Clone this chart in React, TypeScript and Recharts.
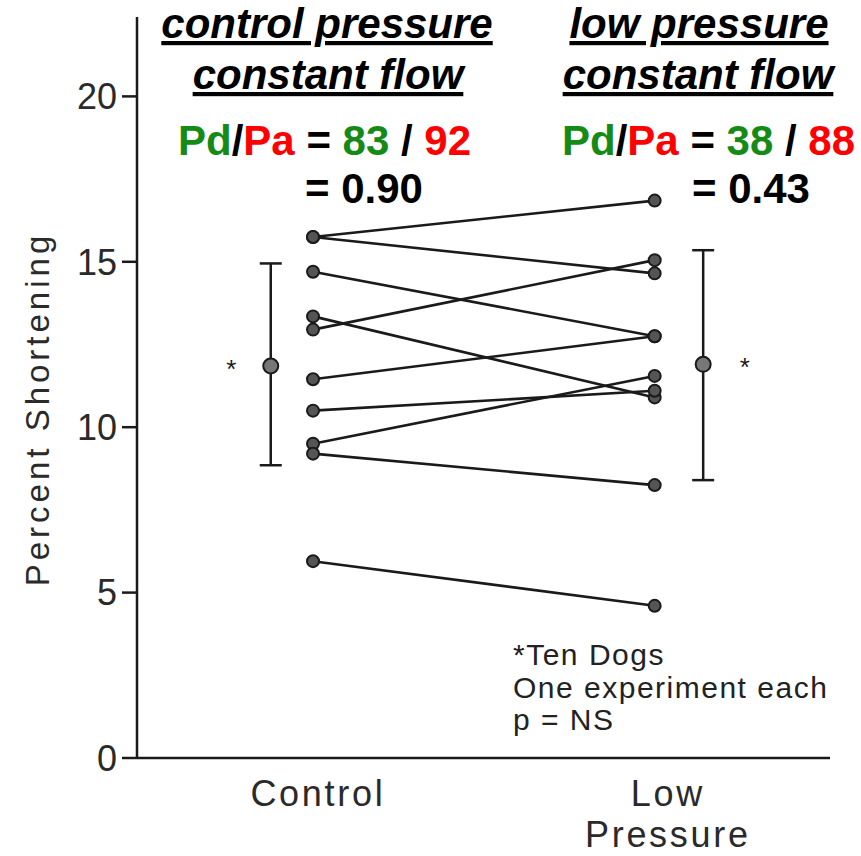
import { ComposedChart, ErrorBar, Scatter, XAxis, YAxis } from "recharts";

// percent shortening per dog, control vs low pressure
const controlValues = [15.75, 15.75, 14.7, 13.35, 12.95, 11.45, 10.5, 9.5, 9.2, 5.95];
const lowValues = [16.85, 14.65, 12.75, 10.9, 15.05, 12.75, 11.1, 11.55, 8.25, 4.6];

// group means with error range (low end, high end)
const meanValues = [11.85, 11.9];
const rangeLow = [8.85, 8.4];
const rangeHigh = [14.95, 15.35];

const yTicks = [0, 5, 10, 15, 20];
const xLabels = [["Control"], ["Low", "Pressure"]];

// horizontal slots on the numeric x scale
const dogX = [2.54, 7.47];
const meanX = [1.93, 8.17];
const starX = [1.36, 8.77];
const labelX = [2.61, 7.66];

const W = 861;
const H = 856;
const ink = "#1a1a1a";
const green = "#168a16";
const red = "#ff0000";

const dogs = controlValues.map((c, i) => [
  { x: dogX[0], y: c },
  { x: dogX[1], y: lowValues[i] },
]);

const means = meanValues.map((m, i) => ({
  x: meanX[i],
  y: m,
  err: [m - rangeLow[i], rangeHigh[i] - m],
}));

const stars = meanValues.map((m, i) => ({ x: starX[i], y: m }));

const Dot = (props: any) => (
  <circle cx={props.cx} cy={props.cy} r={6} fill="#555" stroke={ink} strokeWidth={2} />
);

const MeanDot = (props: any) => (
  <circle cx={props.cx} cy={props.cy} r={7.5} fill="#777" stroke={ink} strokeWidth={2} />
);

const Star = (props: any) => (
  <text x={props.cx} y={props.cy + 12} textAnchor="middle" fontSize={26} fill={ink} fontFamily="Liberation Sans, Arial">
    *
  </text>
);

const XTick = (props: any) => {
  const idx = labelX.indexOf(props.payload.value);
  const lines = xLabels[idx] || [];
  return (
    <g>
      {lines.map((t, k) => (
        <text
          key={t}
          x={props.x}
          y={props.y + 40 + k * 41}
          textAnchor="middle"
          fontSize={36}
          letterSpacing={2.7}
          fill="#2a2a2a"
          fontFamily="Liberation Sans, Arial"
        >
          {t}
        </text>
      ))}
    </g>
  );
};

const headStyle = {
  fontFamily: "Liberation Sans, Arial",
  fontWeight: 700,
  fontSize: 42,
};

export default function App() {
  return (
    <div style={{ position: "absolute", left: 0, top: 0, width: W, height: H, background: "#fff" }}>
      <ComposedChart width={W} height={H} margin={{ top: 17, right: 31, bottom: 0, left: 0 }}>
        <XAxis
          type="number"
          dataKey="x"
          domain={[0, 10]}
          ticks={labelX}
          tick={<XTick />}
          tickLine={false}
          height={98}
          axisLine={{ stroke: ink, strokeWidth: 2.5 }}
          allowDataOverflow
        />
        <YAxis
          type="number"
          dataKey="y"
          domain={[0, 22.4]}
          ticks={yTicks}
          width={137}
          tickSize={15}
          tickMargin={5}
          tickLine={{ stroke: ink, strokeWidth: 2.5 }}
          axisLine={{ stroke: ink, strokeWidth: 2.5 }}
          tick={{ fontSize: 36, fill: "#2a2a2a", fontFamily: "Liberation Sans, Arial" }}
          allowDataOverflow
        />
        {dogs.map((d, i) => (
          <Scatter
            key={i}
            data={d}
            line={{ stroke: ink, strokeWidth: 2.6 }}
            shape={<Dot />}
            isAnimationActive={false}
          />
        ))}
        <Scatter data={means} shape={<MeanDot />} isAnimationActive={false}>
          <ErrorBar dataKey="err" direction="y" width={11} stroke={ink} strokeWidth={2.5} />
        </Scatter>
        <Scatter data={stars} shape={<Star />} isAnimationActive={false} />
      </ComposedChart>

      <svg width={W} height={H} style={{ position: "absolute", left: 0, top: 0, pointerEvents: "none" }}>
        <text
          x={37}
          y={409}
          transform="rotate(-90 37 409)"
          textAnchor="middle"
          dominantBaseline="central"
          fontSize={33}
          letterSpacing={4}
          fill="#2a2a2a"
          fontFamily="Liberation Sans, Arial"
        >
          Percent Shortening
        </text>

        <g style={headStyle} fill="#000">
          <text x={327} y={38} textAnchor="middle" fontStyle="italic" textDecoration="underline">
            control pressure
          </text>
          <text x={328} y={89} textAnchor="middle" fontStyle="italic" textDecoration="underline">
            constant flow
          </text>
          <text x={178} y={155}>
            <tspan fill={green}>Pd</tspan>
            <tspan>/</tspan>
            <tspan fill={red}>Pa</tspan>
            <tspan> = </tspan>
            <tspan fill={green}>83</tspan>
            <tspan> / </tspan>
            <tspan fill={red}>92</tspan>
          </text>
          <text x={305} y={203}>= 0.90</text>

          <text x={699} y={38} textAnchor="middle" fontStyle="italic" textDecoration="underline">
            low pressure
          </text>
          <text x={698} y={89} textAnchor="middle" fontStyle="italic" textDecoration="underline">
            constant flow
          </text>
          <text x={562} y={155}>
            <tspan fill={green}>Pd</tspan>
            <tspan>/</tspan>
            <tspan fill={red}>Pa</tspan>
            <tspan> = </tspan>
            <tspan fill={green}>38</tspan>
            <tspan> / </tspan>
            <tspan fill={red}>88</tspan>
          </text>
          <text x={692} y={203}>= 0.43</text>
        </g>

        <g fontSize={30} letterSpacing={1.5} fill="#222" fontFamily="Liberation Sans, Arial">
          <text x={513} y={665}>*Ten Dogs</text>
          <text x={513} y={698}>One experiment each</text>
          <text x={513} y={730}>p = NS</text>
        </g>
      </svg>
    </div>
  );
}
